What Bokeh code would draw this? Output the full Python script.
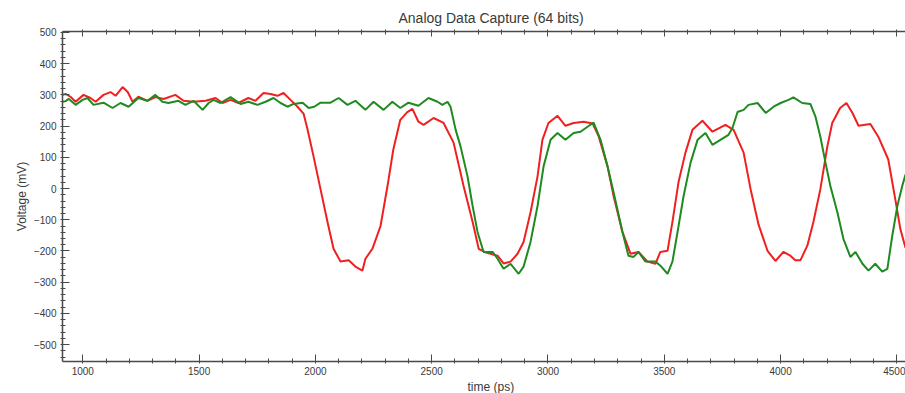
from bokeh.plotting import figure
from bokeh.models import LinearAxis, Range1d, Title, SingleIntervalTicker, CustomJSTickFormatter
from bokeh.embed import file_html
from bokeh.resources import INLINE

title_text = "Analog Data Capture (64 bits)"
x_label = "time (ps)"
y_label = "Voltage (mV)"

red_t = [913, 926, 947, 969, 1003, 1033, 1055, 1089, 1119, 1141, 1171, 1193, 1214, 1239, 1278,
         1312, 1347, 1398, 1433, 1476, 1528, 1571, 1601, 1635, 1669, 1712, 1742, 1777, 1807,
         1837, 1863, 1893, 1923, 1949, 1966, 1992, 2022, 2052, 2078, 2108, 2143, 2172, 2202,
         2215, 2245, 2280, 2310, 2335, 2365, 2395, 2417, 2443, 2465, 2508, 2551, 2594, 2637,
         2676, 2702, 2730, 2753, 2783, 2809, 2839, 2869, 2895, 2925, 2955, 2976, 3002, 3041,
         3075, 3110, 3153, 3192, 3218, 3256, 3282, 3320, 3355, 3389, 3428, 3462, 3483, 3514,
         3535, 3561, 3591, 3621, 3664, 3707, 3763, 3798, 3841, 3871, 3905, 3944, 3978, 4012,
         4042, 4063, 4085, 4115, 4141, 4171, 4201, 4222, 4256, 4283, 4309, 4335, 4386, 4420,
         4463, 4493, 4515, 4537]
red_v = [300, 303, 294, 278, 300, 290, 278, 300, 309, 297, 325, 309, 278, 294, 281,
         293, 287, 300, 281, 278, 281, 290, 274, 284, 274, 290, 281, 306, 303,
         297, 306, 284, 262, 240, 190, 103, -2, -107, -193, -234, -230, -250, -263,
         -225, -193, -120, 8, 125, 220, 245, 255, 214, 204, 226, 210, 147, 8,
         -107, -193, -204, -209, -215, -240, -234, -209, -171, -76, 39, 156, 210, 233,
         201, 210, 214, 208, 167, 71, -24, -139, -209, -203, -234, -241, -203, -199,
         -107, 20, 115, 188, 217, 182, 204, 188, 115, -2, -115, -200, -232, -203,
         -215, -230, -230, -183, -107, -2, 135, 210, 258, 274, 242, 201, 207, 166,
         93, -34, -130, -190]

green_t = [913, 926, 940, 969, 999, 1020, 1046, 1089, 1128, 1162, 1197, 1239, 1278, 1312,
           1342, 1368, 1411, 1441, 1476, 1515, 1541, 1562, 1592, 1635, 1678, 1712, 1751,
           1786, 1820, 1850, 1880, 1906, 1945, 1971, 1995, 2022, 2065, 2100, 2138, 2172,
           2215, 2250, 2293, 2331, 2365, 2400, 2443, 2486, 2525, 2546, 2568, 2581, 2603,
           2624, 2654, 2676, 2697, 2723, 2762, 2783, 2809, 2839, 2874, 2895, 2925, 2955,
           2981, 3011, 3041, 3075, 3110, 3140, 3170, 3196, 3226, 3256, 3282, 3320, 3346,
           3368, 3389, 3419, 3462, 3483, 3514, 3535, 3557, 3583, 3613, 3643, 3677, 3707,
           3741, 3776, 3793, 3815, 3841, 3862, 3901, 3936, 3970, 4000, 4034, 4055, 4093,
           4128, 4150, 4171, 4193, 4214, 4244, 4270, 4300, 4322, 4352, 4378, 4407, 4437,
           4459, 4480, 4502, 4523, 4537]
green_v = [278, 280, 287, 268, 284, 290, 268, 275, 258, 274, 262, 290, 281, 300,
           278, 274, 281, 268, 281, 252, 274, 284, 274, 293, 271, 278, 268,
           278, 290, 274, 262, 271, 275, 258, 262, 275, 275, 290, 268, 281,
           252, 278, 252, 278, 258, 275, 265, 290, 278, 268, 278, 262, 188,
           135, 39, -56, -139, -203, -203, -225, -257, -241, -273, -250, -171, -56,
           71, 156, 178, 156, 178, 182, 198, 211, 156, 71, -12, -139, -215,
           -219, -203, -234, -234, -247, -273, -234, -139, -24, 83, 156, 178, 140,
           156, 172, 194, 245, 252, 268, 274, 242, 262, 274, 284, 292, 274,
           271, 230, 166, 83, 8, -76, -161, -219, -203, -241, -263, -241, -266,
           -257, -152, -56, 8, 45]

FONT = "Liberation Sans"
TXT = "#3a3a3a"
AX = "#4a4a4a"

p = figure(width=905, height=393,
           x_range=Range1d(912.7, 4537), y_range=Range1d(-554, 503),
           output_backend="svg", toolbar_location=None,
           min_border_left=62, min_border_right=0, min_border_top=31, min_border_bottom=0,
           x_axis_type=None, y_axis_type=None)
p.outline_line_color = None
p.background_fill_color = "white"
p.border_fill_color = "white"

xt = SingleIntervalTicker(interval=500, num_minor_ticks=5)
yt = SingleIntervalTicker(interval=100, num_minor_ticks=5)

def style(ax):
    ax.axis_line_color = AX
    ax.axis_line_width = 1.5
    ax.major_tick_line_color = AX
    ax.minor_tick_line_color = AX
    ax.major_tick_in = 7
    ax.major_tick_out = 1
    ax.minor_tick_in = 3
    ax.minor_tick_out = 2
    ax.major_label_text_font = FONT
    ax.major_label_text_font_size = "10px"
    ax.major_label_text_color = TXT
    ax.axis_label_text_font = FONT
    ax.axis_label_text_font_size = "12px"
    ax.axis_label_text_font_style = "normal"
    ax.axis_label_text_color = TXT

xb = LinearAxis(ticker=xt)
style(xb)
xb.major_label_standoff = 3
p.add_layout(xb, "below")

xtop = LinearAxis(ticker=xt, formatter=CustomJSTickFormatter(code="return ''"))
style(xtop)
xtop.major_tick_in = 5
xtop.major_label_standoff = 0
p.add_layout(xtop, "above")

yl = LinearAxis(ticker=yt, axis_label=y_label)
style(yl)
yl.major_label_standoff = 4
yl.axis_label_standoff = 2
p.add_layout(yl, "left")

p.add_layout(Title(text=x_label, align="left", offset=405, text_font=FONT,
                   text_font_size="12px", text_font_style="normal", text_color=TXT,
                   standoff=0), "below")
p.add_layout(Title(text=title_text, align="left", offset=336, text_font=FONT,
                   text_font_size="14px", text_font_style="normal", text_color=TXT,
                   standoff=8), "above")

p.xgrid.ticker = xt
p.ygrid.ticker = yt
p.xgrid.grid_line_color = "#dedede"
p.ygrid.grid_line_color = "#dedede"

p.line(red_t, red_v, line_color="#f02020", line_width=2)
p.line(green_t, green_v, line_color="#1f8a1f", line_width=2)

open("out.html", "w").write(file_html(p, INLINE))
